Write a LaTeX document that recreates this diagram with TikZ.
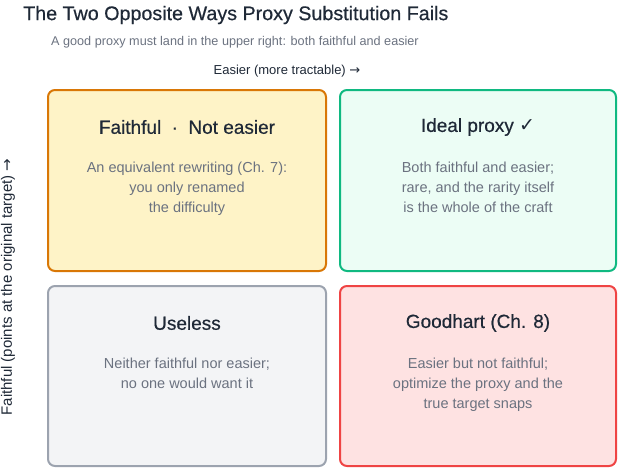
\documentclass[tikz,border=0pt]{standalone}
\usepackage{fontspec}
\setmainfont{Liberation Sans}
\newfontfamily\medfont[FakeBold=0.5]{Liberation Sans}
\newfontfamily\symfont{DejaVu Sans}
\definecolor{ambfill}{HTML}{FEF3C7}
\definecolor{ambdraw}{HTML}{D97706}
\definecolor{grnfill}{HTML}{ECFDF5}
\definecolor{grndraw}{HTML}{10B981}
\definecolor{gryfill}{HTML}{F3F4F6}
\definecolor{grydraw}{HTML}{9CA3AF}
\definecolor{redfill}{HTML}{FEE2E2}
\definecolor{reddraw}{HTML}{EF4444}
\definecolor{bodytxt}{HTML}{6B7280}
\definecolor{headtxt}{HTML}{1F2937}
\begin{document}
\begin{tikzpicture}[x=1pt,y=-1pt,
  quad/.style={draw, line width=2pt, rounded corners=7pt, anchor=north west, inner sep=0pt},
  qtitle/.style={font=\medfont\fontsize{19}{22}\selectfont, text=headtxt, anchor=center, inner sep=0pt},
  qbody/.style={font=\fontsize{14.5}{20}\selectfont, text=bodytxt, align=center, anchor=north, inner sep=0pt},
  axis/.style={font=\fontsize{13}{15}\selectfont, text=headtxt, inner sep=0pt}]
\useasboundingbox (0,0) rectangle (619,469);
\node[anchor=west, font=\medfont\fontsize{19.7}{24}\selectfont, text=headtxt, inner sep=0pt] (title) at (23,15) {The Two Opposite Ways Proxy Substitution Fails};
\node[anchor=west, font=\fontsize{12.65}{15}\selectfont, text=bodytxt, inner sep=0pt] (sub) at (51,42) {A good proxy must land in the upper right: both faithful and easier};
\node[axis] (xax) at (287,71) {Easier (more tractable) {\symfont →}};
\node[axis, font=\fontsize{15}{17}\selectfont, rotate=90] (yax) at (8,287) {Faithful (points at the original target) {\symfont →}};

\draw[quad, fill=ambfill, draw=ambdraw] (48,90) rectangle (326,271) coordinate (tlc);
\draw[quad, fill=grnfill, draw=grndraw] (340,90) rectangle (616,271) coordinate (trc);
\draw[quad, fill=gryfill, draw=grydraw] (48,286) rectangle (326,466) coordinate (blc);
\draw[quad, fill=redfill, draw=reddraw] (340,286) rectangle (616,466) coordinate (brc);

\node[qtitle] (tlt) at (187,127) {Faithful\hspace{0.55em}·\hspace{0.55em}Not easier};
\node[qbody] (tlb) at (187,162) {An equivalent rewriting (Ch. 7):\\you only renamed\\the difficulty};
\node[qtitle] (trt) at (478,127) {Ideal proxy {\symfont ✓}};
\node[qbody] (trb) at (478,162) {Both faithful and easier;\\rare, and the rarity itself\\is the whole of the craft};
\node[qtitle] (blt) at (187,323) {Useless};
\node[qbody] (blb) at (187,358) {Neither faithful nor easier;\\no one would want it};
\node[qtitle] (brt) at (478,323) {Goodhart (Ch. 8)};
\node[qbody] (brb) at (478,358) {Easier but not faithful;\\optimize the proxy and the\\true target snaps};
\end{tikzpicture}
\end{document}
